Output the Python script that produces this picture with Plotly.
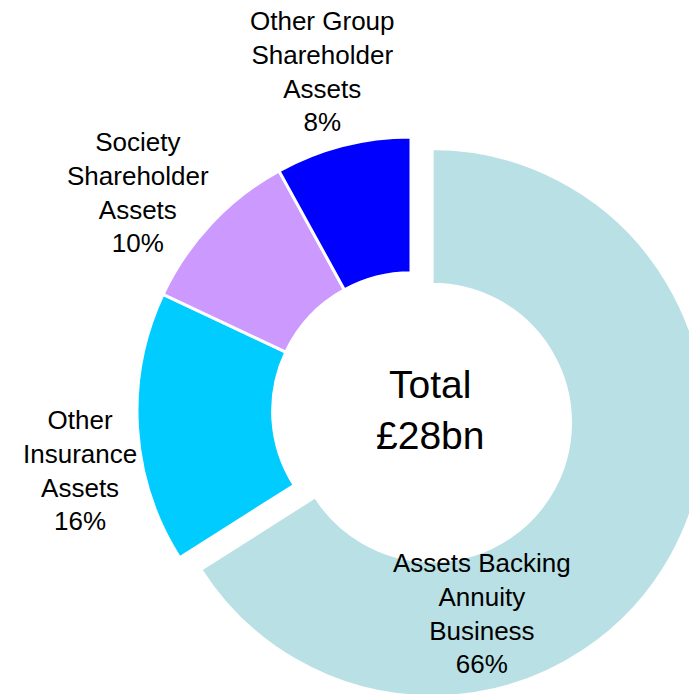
import plotly.graph_objects as go

# data
labels = ['Assets Backing Annuity Business', 'Other Insurance Assets',
          'Society Shareholder Assets', 'Other Group Shareholder Assets']
label_lines = ['Assets Backing<br>Annuity<br>Business', 'Other<br>Insurance<br>Assets',
               'Society<br>Shareholder<br>Assets', 'Other Group<br>Shareholder<br>Assets']
shares = [66, 16, 10, 8]
total_bn = 28

colors = ['#B9E0E4', '#00CCFF', '#CC99FF', '#0000FF']

W, H = 760, 760
cx, cy, r, pull = 411, 411, 274, 0.088
half = r * (1 + pull)

fig = go.Figure()
fig.add_trace(go.Pie(labels=labels,
                     values=shares,
                     sort=False,
                     direction='clockwise',
                     rotation=0,
                     hole=0.505,
                     pull=[pull, 0, 0, 0],
                     marker=dict(colors=colors, line=dict(color='white', width=3)),
                     textinfo='none',
                     hoverinfo='skip',
                     showlegend=False,
                     domain=dict(x=[(cx - half) / W, (cx + half) / W],
                                 y=[1 - (cy + half) / H, 1 - (cy - half) / H])))

# label positions in pixels from top-left of the picture
label_pos = [(482, 613), (80, 470), (138, 192), (322, 72)]
for txt, val, (px, py) in zip(label_lines, shares, label_pos):
    fig.add_annotation(x=px / W, y=1 - py / H, xref='paper', yref='paper',
                       text=f'{txt}<br>{val}%', showarrow=False,
                       xanchor='center', yanchor='middle',
                       font=dict(family='Liberation Sans', size=26, color='black'))

fig.add_annotation(x=430 / W, y=1 - 410 / H, xref='paper', yref='paper',
                   text=f'Total<br>£{total_bn}bn', showarrow=False,
                   xanchor='center', yanchor='middle',
                   font=dict(family='Liberation Sans', size=39, color='black'))

fig.update_layout(width=W, height=H,
                  margin=dict(l=0, r=0, t=0, b=0),
                  paper_bgcolor='white',
                  plot_bgcolor='white')

fig.write_html("out.html",
               post_script="document.body.style.margin='0';"
                           "document.body.style.overflow='hidden';"
                           "document.documentElement.style.overflow='hidden';")
